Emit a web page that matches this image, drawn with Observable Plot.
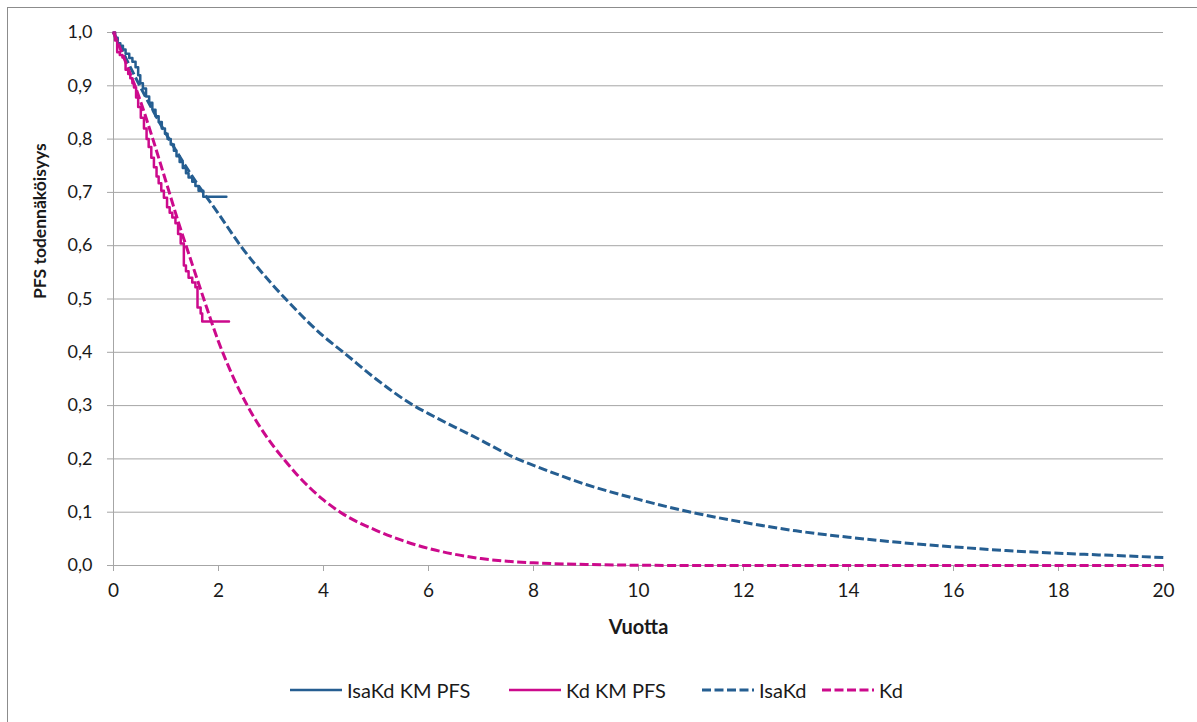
<!DOCTYPE html>
<html>
<head>
<meta charset="utf-8">
<script src="https://cdn.jsdelivr.net/npm/d3@7"></script>
<script src="https://cdn.jsdelivr.net/npm/@observablehq/plot@0.6"></script>
<style>
  html, body { margin: 0; padding: 0; background: #fff; }
  #wrap { position: relative; width: 1197px; height: 722px; overflow: hidden; font-family: Lato, "Open Sans", sans-serif; }
  #border { position: absolute; left: 7px; top: 7px; width: 1300px; height: 800px; border-top: 1px solid #8c8c8c; border-left: 1px solid #8c8c8c; }
  #chart { position: absolute; left: 0; top: 0; }
  #legend { position: absolute; left: 0; top: 660px; width: 1197px; height: 62px; }
  .item { position: absolute; top: 17px; height: 26px; display: flex; align-items: center; font-size: 20px; color: #1a1a1a; }
  .item svg { margin-right: 5px; }
</style>
</head>
<body>
<div id="wrap">
  <div id="border"></div>
  <div id="chart"></div>
  <div id="legend"></div>
</div>
<script>
// ---- Data ----
const seriesNames = ["IsaKd KM PFS", "Kd KM PFS", "IsaKd", "Kd"];
const seriesColors = ["#255e91", "#cc0a8c", "#255e91", "#cc0a8c"];
const seriesDash = [null, null, "9,3.5", "9,3.5"];

// IsaKd Kaplan-Meier PFS (step)
const isaKmT = [0, 0.03, 0.08, 0.13, 0.18, 0.23, 0.3, 0.36, 0.42, 0.47, 0.51, 0.56, 0.62, 0.68, 0.74, 0.8, 0.86, 0.92, 0.98, 1.03, 1.09, 1.15, 1.2, 1.26, 1.32, 1.38, 1.43, 1.5, 1.56, 1.62, 1.71, 2.15];
const isaKmS = [1, 0.99, 0.98, 0.975, 0.968, 0.96, 0.952, 0.945, 0.935, 0.92, 0.905, 0.895, 0.88, 0.868, 0.855, 0.843, 0.832, 0.82, 0.81, 0.80, 0.79, 0.778, 0.768, 0.757, 0.746, 0.736, 0.728, 0.72, 0.712, 0.703, 0.692, 0.692];

// Kd Kaplan-Meier PFS (step)
const kdKmT = [0, 0.03, 0.07, 0.12, 0.17, 0.23, 0.28, 0.32, 0.36, 0.39, 0.43, 0.47, 0.52, 0.58, 0.63, 0.67, 0.72, 0.77, 0.82, 0.86, 0.91, 0.96, 1.02, 1.07, 1.12, 1.18, 1.23, 1.28, 1.34, 1.38, 1.43, 1.5, 1.56, 1.6, 1.66, 1.69, 2.2];
const kdKmS = [1, 0.985, 0.963, 0.958, 0.953, 0.93, 0.922, 0.914, 0.905, 0.897, 0.878, 0.86, 0.84, 0.82, 0.8, 0.785, 0.765, 0.747, 0.73, 0.717, 0.703, 0.69, 0.672, 0.662, 0.653, 0.642, 0.622, 0.604, 0.563, 0.552, 0.54, 0.531, 0.522, 0.484, 0.473, 0.458, 0.458];

// IsaKd extrapolated PFS
const isaT = [0, 0.5, 1, 1.5, 2, 2.42, 3, 3.28, 4, 4.38, 5, 5.72, 6, 7, 7.69, 8, 9, 10, 11, 12, 13, 14, 15, 16, 17, 18, 19, 20];
const isaS = [1, 0.9, 0.81, 0.73, 0.66, 0.6, 0.53, 0.5, 0.43, 0.4, 0.35, 0.3, 0.285, 0.235, 0.2, 0.188, 0.152, 0.124, 0.1, 0.081, 0.065, 0.053, 0.043, 0.035, 0.028, 0.023, 0.019, 0.015];

// Kd extrapolated PFS
const kdT = [0, 0.25, 0.5, 0.75, 1, 1.25, 1.5, 1.72, 2, 2.25, 2.55, 3, 3.24, 3.5, 4, 4.32, 5, 5.5, 6, 6.5, 7, 7.5, 8, 9, 10, 11, 20];
const kdS = [1, 0.94, 0.875, 0.8, 0.72, 0.64, 0.565, 0.5, 0.42, 0.36, 0.3, 0.23, 0.2, 0.17, 0.123, 0.1, 0.066, 0.047, 0.032, 0.021, 0.013, 0.008, 0.005, 0.002, 0.0005, 0, 0];

const xTicks = [0, 2, 4, 6, 8, 10, 12, 14, 16, 18, 20];
const yTicks = [0, 0.1, 0.2, 0.3, 0.4, 0.5, 0.6, 0.7, 0.8, 0.9, 1.0];
const xTitle = "Vuotta";
const yTitle = "PFS todennäköisyys";

// ---- Build table ----
const toRows = (name, T, S) => T.map((t, i) => ({series: name, t, s: S[i]}));
const isaKm = toRows(seriesNames[0], isaKmT, isaKmS);
const kdKm = toRows(seriesNames[1], kdKmT, kdKmS);
const isa = toRows(seriesNames[2], isaT, isaS);
const kd = toRows(seriesNames[3], kdT, kdS);

const fmt = d => d.toFixed(1).replace(".", ",");
const gridColor = "#a6a6a6";

const chart = Plot.plot({
  width: 1197,
  height: 660,
  marginLeft: 113,
  marginRight: 34,
  marginTop: 32,
  marginBottom: 95,
  style: {fontFamily: "Lato, 'Open Sans', sans-serif", fontSize: "18px", background: "transparent", overflow: "visible"},
  x: {domain: [0, 20]},
  y: {domain: [0, 1]},
  marks: [
    Plot.gridY(yTicks, {stroke: gridColor, strokeOpacity: 1, strokeWidth: 1}),
    Plot.ruleX([0], {stroke: gridColor, strokeWidth: 1}),
    Plot.ruleY([0], {stroke: gridColor, strokeWidth: 1}),
    Plot.axisY(yTicks, {tickSize: 6, tickPadding: 15, tickFormat: fmt, stroke: gridColor, fill: "#1a1a1a", label: null, fontSize: 18}),
    Plot.axisX(xTicks, {tickSize: 6, tickPadding: 12, tickFormat: d => String(d), stroke: gridColor, fill: "#1a1a1a", label: null, fontSize: 19}),
    Plot.line(isaKm, {x: "t", y: "s", curve: "step-after", stroke: seriesColors[0], strokeWidth: 2.5}),
    Plot.line(kdKm, {x: "t", y: "s", curve: "step-after", stroke: seriesColors[1], strokeWidth: 2.5}),
    Plot.line(isa, {x: "t", y: "s", curve: "monotone-x", stroke: seriesColors[2], strokeWidth: 3, strokeDasharray: seriesDash[2], strokeLinecap: "butt"}),
    Plot.line(kd, {x: "t", y: "s", curve: "monotone-x", stroke: seriesColors[3], strokeWidth: 3, strokeDasharray: seriesDash[3], strokeLinecap: "butt"}),
    Plot.text([xTitle], {frameAnchor: "bottom", dy: 68, fontWeight: "bold", fontSize: 20, fill: "#1a1a1a"}),
    Plot.text([yTitle], {frameAnchor: "left", dx: -73, rotate: -90, fontWeight: "bold", fontSize: 17.5, fill: "#1a1a1a"})
  ]
});
document.getElementById("chart").appendChild(chart);

// ---- Legend ----
const legendLeft = [290, 509, 702, 822];
const legend = document.getElementById("legend");
seriesNames.forEach((name, i) => {
  const item = document.createElement("div");
  item.className = "item";
  item.style.left = legendLeft[i] + "px";
  const dash = seriesDash[i] ? `stroke-dasharray="${seriesDash[i]}"` : "";
  const sw = seriesDash[i] ? 3 : 2.5;
  item.innerHTML = `<svg width="52" height="10"><line x1="0" x2="52" y1="5" y2="5" stroke="${seriesColors[i]}" stroke-width="${sw}" ${dash}></line></svg><span>${name}</span>`;
  legend.appendChild(item);
});
</script>
</body>
</html>
